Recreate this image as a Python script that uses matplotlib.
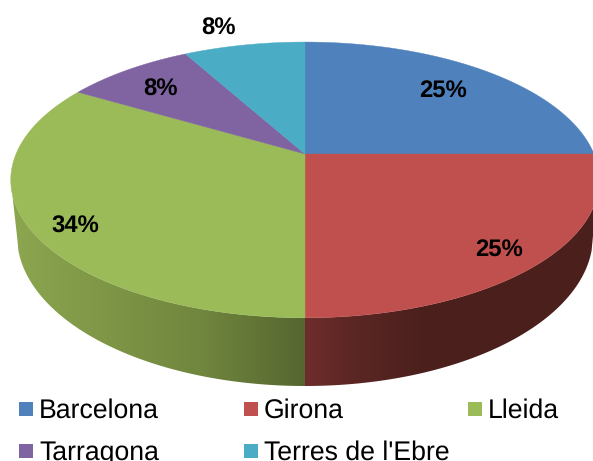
import numpy as np
import matplotlib
matplotlib.use("Agg")
import matplotlib.pyplot as plt
import matplotlib.patches as patches
from matplotlib.colors import to_rgb

plt.rcParams['font.family'] = ['Liberation Sans', 'DejaVu Sans']
plt.rcParams['text.hinting'] = 'no_hinting'

regions = ["Barcelona", "Girona", "Lleida", "Tarragona", "Terres de l'Ebre"]
shares = [25, 25, 33.5, 8.5, 8]
colors = ["#4F81BD", "#C0504D", "#9BBB59", "#8064A2", "#4BACC6"]

# pie geometry in pixels, the centre sits above the middle because of the perspective
cx, cy = 305, 154
rx, ry = 289, 133
tilt = 0.188
bottom_cy, bottom_rx, bottom_ry = 236, 288, 150


def rim(deg):
    # deg runs clockwise from the top of the pie
    a = np.radians(deg)
    k = 1 + tilt * np.cos(a)
    return cx + rx * np.sin(a) / k, cy - ry * np.cos(a) / k


def bottom_edge(x):
    d = (x - cx) / bottom_rx
    return bottom_cy + bottom_ry * np.sqrt(np.clip(1 - d * d, 0, 1))


def side_wall(ax, deg_from, deg_to, x_stops, c_stops):
    # one front wall, filled with a gradient along x and clipped to its outline
    deg = np.linspace(deg_from, deg_to, 200)
    tx, ty = rim(deg)
    # only the part of the rim down to its widest point
    far = np.argmax(np.abs(tx - cx))
    tx, ty = tx[:far + 1], ty[:far + 1]
    side = np.sign(tx[far] - cx)
    bx = np.linspace(cx + side * bottom_rx, cx, 200)
    by = bottom_edge(bx)
    outline = np.column_stack([np.r_[tx, bx], np.r_[ty, by]])
    poly = patches.Polygon(outline, closed=True, fc="none", ec="none")
    ax.add_patch(poly)
    xs = np.linspace(tx.min() if side < 0 else cx, cx if side < 0 else tx.max(), 300)
    rgb = np.array([to_rgb(c) for c in c_stops])
    grad = np.column_stack([np.interp(xs, x_stops, rgb[:, i]) for i in range(3)])
    im = ax.imshow(grad[None, :, :], extent=(xs[0], xs[-1], 400, 100), aspect="auto", zorder=1)
    im.set_clip_path(poly)


fig = plt.figure(figsize=(5.93, 4.61), dpi=100)
ax = fig.add_axes([0, 0, 1, 1])

side_wall(ax, 180, 300, [11, 100, 200, 305],
          ["#8CA650", "#7F9747", "#71863E", "#55662F"])
side_wall(ax, 180, 90, [305, 350, 420, 600],
          ["#6E2D2C", "#5C2725", "#4C201D", "#4A1F1C"])

# top face
start = 0
for share, color in zip(shares, colors):
    deg = np.linspace(start, start + share * 3.6, 120)
    x, y = rim(deg)
    ax.add_patch(patches.Polygon(np.column_stack([np.r_[cx, x], np.r_[cy, y]]), closed=True,
                                 fc=color, ec=color, lw=0.3, zorder=2))
    start += share * 3.6

# data labels
label_pos = [(443, 92), (499, 251), (75, 227), (160, 90), (218, 29)]
for share, (lx, ly) in zip(shares, label_pos):
    ax.text(lx, ly, "%d%%" % round(share), ha="center", va="center", fontsize=17.2,
            fontweight="bold", color="black", zorder=3)

# legend, two rows, the second one runs into the bottom of the picture
key_x = [19, 244, 468, 19, 244]
key_y = [402, 402, 402, 444, 444]
for name, color, kx, ky in zip(regions, colors, key_x, key_y):
    ax.add_patch(patches.Rectangle((kx, ky), 14, 14, fc=color, ec="none", zorder=3))
    ax.text(kx + 20, ky + 16, name, ha="left", va="baseline", fontsize=19.2, color="black",
            zorder=3, clip_on=False)

ax.set_xlim(0, 593)
ax.set_ylim(461, 0)
ax.axis("off")

fig.savefig("out.png", dpi=100)
